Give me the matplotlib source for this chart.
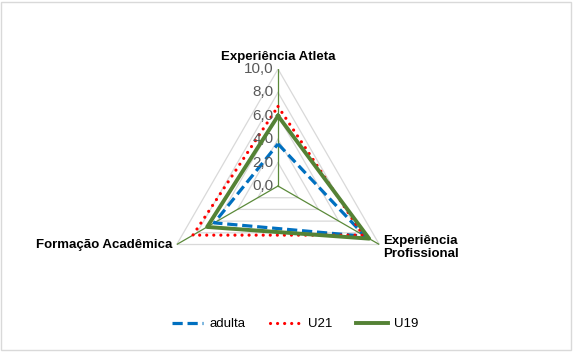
import matplotlib.pyplot as plt
import numpy as np
from matplotlib.patches import Rectangle

# dados do gráfico radar
categorias = ["Experiência Atleta", "Experiência\nProfissional", "Formação Acadêmica"]
adulta = [3.6, 8.6, 6.3]
u21 = [6.8, 8.4, 8.4]
u19 = [6.0, 9.0, 7.0]
ticks = [0, 2, 4, 6, 8, 10]
tick_labels = ["0,0", "2,0", "4,0", "6,0", "8,0", "10,0"]

plt.rcParams["font.family"] = ["Liberation Sans", "DejaVu Sans"]

fig = plt.figure(figsize=(5.73, 3.55), dpi=100)
ax = fig.add_axes([0.281, 0.1465, 0.4084, 0.659], projection="polar")
ax.set_theta_zero_location("N")
ax.set_theta_direction(-1)

angulos = np.linspace(0, 2 * np.pi, len(categorias), endpoint=False)
ang_fech = np.append(angulos, angulos[0])

# grade triangular
for r in ticks[1:]:
    ax.plot(ang_fech, [r] * len(ang_fech), color="#d9d9d9", lw=0.9, zorder=1)
for a in angulos:
    ax.plot([a, a], [0, 10], color="#5b8a3a", lw=0.9, zorder=1)

# séries
ax.plot(ang_fech, adulta + adulta[:1], color="#0070c0", lw=2.3,
        linestyle=(0, (3.2, 1.5)), label="adulta", zorder=3)
ax.plot(ang_fech, u21 + u21[:1], color="#ff0000", lw=2.3,
        linestyle=(0, (0.01, 2.2)), dash_capstyle="round", label="U21", zorder=3)
ax.plot(ang_fech, u19 + u19[:1], color="#548235", lw=2.8,
        label="U19", zorder=4)

ax.set_ylim(0, 10)
ax.grid(False)
ax.spines["polar"].set_visible(False)
ax.set_xticks([])
ax.set_yticks([])
ax.patch.set_alpha(0)

# rótulos do eixo radial
for r, lbl in zip(ticks, tick_labels):
    ax.annotate(lbl, xy=(0, r), xytext=(-3, 0), textcoords="offset points",
                ha="right", va="center", fontsize=11, color="#595959")

# rótulos das categorias
ax.annotate(categorias[0], xy=(angulos[0], 10), xytext=(0, 9), textcoords="offset points",
            ha="center", va="center", fontsize=9.5, fontweight="bold")
ax.annotate(categorias[1], xy=(angulos[1], 10), xytext=(3, -2), textcoords="offset points",
            ha="left", va="center", fontsize=9.5, fontweight="bold", linespacing=1.1)
ax.annotate(categorias[2], xy=(angulos[2], 10), xytext=(-3, 0), textcoords="offset points",
            ha="right", va="center", fontsize=9.5, fontweight="bold")

fig.legend(loc="center", bbox_to_anchor=(0.515, 0.087), ncol=3, frameon=False,
           fontsize=9.5, handlelength=2.4, columnspacing=1.8, handletextpad=0.5)

fig.patches.append(Rectangle((0.002, 0.014), 0.994, 0.98, transform=fig.transFigure,
                             fill=False, edgecolor="#d9d9d9", lw=1))

plt.savefig("out.png", dpi=100)
